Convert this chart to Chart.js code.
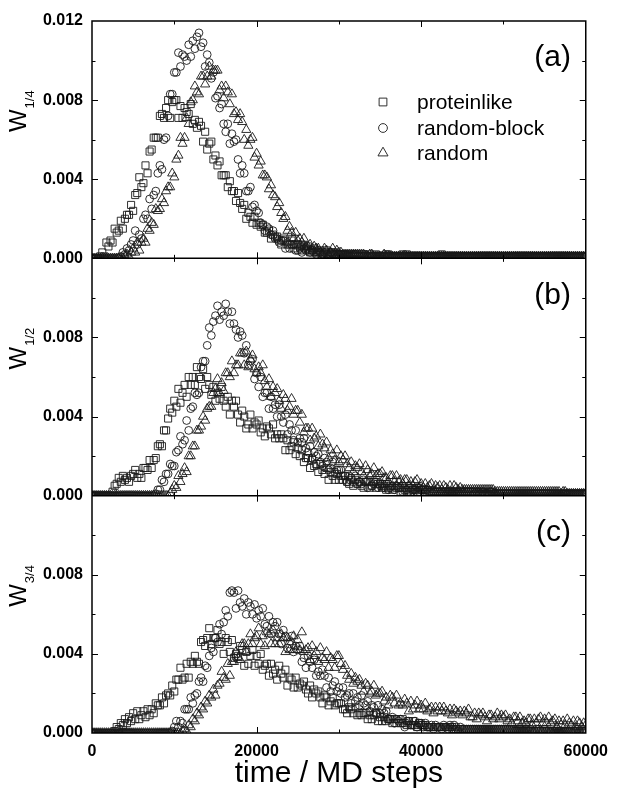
<!DOCTYPE html>
<html>
<head>
<meta charset="utf-8">
<script src="https://cdn.jsdelivr.net/npm/chart.js@4.4.1/dist/chart.umd.min.js"></script>
<style>
  html, body { margin: 0; padding: 0; background: #fff; }
</style>
</head>
<body>
<canvas id="chart" width="617" height="795"></canvas>
<script>
// MD sampling grid (every 250 steps); W values below are in units of 1e-4
const steps = Array.from({length: 241}, (_, i) => i * 250);
const unit = 1e-4;

const seriesNames = ['proteinlike', 'random-block', 'random'];
const panelLabels = ['(a)', '(b)', '(c)'];
const panelSubs = ['1/4', '1/2', '3/4'];
const xTicks = [0, 20000, 40000, 60000];
const yTicks = [0, 0.004, 0.008, 0.012];

// panel (a) W1/4, one row = 5000 steps
const protA = [
  0,0,0,0,1,3,1,8,6,9,8,15,13,14,19,15,20,22,22,27,
  24,32,33,41,36,38,47,43,54,55,61,61,61,72,73,71,76,80,71,79,
  80,80,71,77,71,76,74,73,78,68,70,66,69,67,59,64,55,58,59,50,
  52,47,49,42,42,42,36,39,34,34,29,33,28,25,27,20,23,21,18,21,
  17,18,16,17,13,13,14,10,12,11,11,9,7,10,9,7,7,9,5,7,
  7,6,4,6,5,6,3,4,5,3,3,4,3,2,4,3,2,3,3,2,
  2,2,2,2,1,2,2,1,2,2,1,2,2,1,1,2,1,1,2,1,
  1,1,1,2,2,1,1,1,1,1,1,2,1,2,1,1,1,1,1,1,
  1,1,1,1,1,1,1,1,1,1,2,1,1,1,1,1,1,1,1,1,
  1,1,1,1,1,1,1,1,1,1,1,1,1,1,1,1,1,1,1,1,
  1,1,1,1,1,1,1,1,1,1,1,1,1,1,1,1,1,1,1,1,
  1,1,1,1,1,1,1,1,1,1,1,1,1,1,1,1,1,1,1,1,
  1];
const blockA = [
  0,0,0,0,0,0,0,0,0,0,0,0,0,0,1,3,2,5,4,7,
  9,14,7,12,10,20,22,20,30,25,32,34,43,47,45,60,61,72,83,83,
  94,94,104,97,103,102,100,108,102,110,106,112,114,107,109,97,103,99,91,94,
  81,82,76,78,68,64,68,58,63,59,60,50,43,47,43,34,34,36,26,27,
  24,23,18,17,14,16,15,12,14,10,10,8,9,9,5,8,5,7,7,4,
  4,5,3,5,4,4,3,4,3,2,4,3,2,3,2,1,3,2,2,1,
  2,2,2,2,2,1,1,2,2,1,1,1,1,2,1,1,1,1,1,1,
  1,1,1,1,1,1,1,1,1,1,1,1,1,1,1,1,1,1,1,1,
  1,1,1,1,1,1,1,1,1,1,1,1,1,1,1,1,1,1,1,1,
  1,1,1,1,1,1,1,1,1,1,1,1,1,1,1,1,1,1,1,1,
  1,1,1,1,1,1,1,1,1,1,1,1,1,1,1,1,1,1,1,1,
  1,1,1,1,1,1,1,1,1,1,1,1,1,1,1,1,1,1,1,1,
  1];
const randA = [
  0,0,0,0,0,0,0,0,0,0,0,0,0,0,0,0,1,2,1,3,
  5,3,8,4,8,10,8,15,14,18,17,25,24,25,30,28,34,36,36,43,
  41,50,52,61,58,61,71,68,79,80,87,84,83,92,92,88,92,97,92,95,
  95,95,85,87,81,87,84,78,83,73,74,70,73,69,60,65,57,60,61,51,
  53,47,49,42,42,41,35,37,32,31,26,28,23,20,21,14,16,13,10,13,
  9,10,8,10,6,6,7,4,6,5,5,3,2,5,4,2,3,5,2,4,
  3,3,2,2,2,2,2,2,2,2,2,2,2,1,1,2,2,1,1,1,
  1,1,2,1,1,1,1,1,1,1,1,1,1,1,1,1,1,1,1,1,
  1,1,1,1,1,1,1,1,1,1,1,1,1,1,1,1,1,1,1,1,
  1,1,1,1,1,1,1,1,1,1,1,1,1,1,1,1,1,1,1,1,
  1,1,1,1,1,1,1,1,1,1,1,1,1,1,1,1,1,1,1,1,
  1,1,1,1,1,1,1,1,1,1,1,1,1,1,1,1,1,1,1,1,
  1];

// panel (b) W1/2
const protB = [
  0,0,0,0,0,0,0,0,0,0,2,5,6,9,7,10,8,9,7,10,
  11,13,9,11,9,14,14,13,18,14,18,19,25,26,25,33,33,39,44,42,
  48,45,54,47,52,56,50,60,56,60,56,65,60,59,64,54,60,56,51,55,
  48,52,49,55,48,45,50,41,48,45,48,41,37,43,40,34,36,41,34,37,
  36,38,32,34,30,35,34,31,36,29,31,29,31,29,23,28,23,25,27,21,
  24,20,23,17,19,19,14,18,15,16,12,16,13,11,14,8,12,10,8,11,
  8,10,8,10,7,6,8,5,8,6,7,5,4,7,7,4,5,7,4,6,
  6,4,5,3,4,5,3,5,4,4,2,4,3,2,4,2,3,3,2,4,
  3,3,2,2,2,2,2,2,2,2,2,2,2,2,2,2,2,2,2,2,
  2,2,2,2,2,2,2,2,1,2,2,1,1,2,2,1,1,1,1,1,
  1,1,1,1,1,1,1,1,1,1,1,1,1,1,1,1,1,1,1,1,
  1,1,1,1,1,1,1,1,1,1,1,1,1,1,1,1,1,1,1,1,
  1];
const blockB = [
  0,0,0,0,0,0,0,0,0,0,0,0,0,0,0,0,0,0,0,0,
  0,0,0,0,0,0,0,0,0,0,0,1,3,3,8,7,11,11,16,15,
  15,22,23,30,26,28,38,33,44,45,52,51,52,65,68,68,76,85,81,88,
  91,96,89,93,91,97,93,87,93,87,84,80,83,81,72,76,66,68,69,59,
  62,55,60,50,52,52,44,50,44,46,40,46,40,37,41,31,36,33,28,33,
  27,29,27,29,24,22,25,19,22,20,21,17,15,19,17,13,14,17,12,13,
  13,13,10,10,7,10,9,7,10,6,7,6,8,7,4,7,5,6,7,4,
  5,6,4,6,3,4,5,3,5,4,4,2,4,3,2,4,3,3,4,2,
  3,3,3,3,2,2,2,2,2,2,2,2,2,2,2,2,2,2,2,2,
  2,2,2,2,2,2,1,2,2,1,2,1,1,1,2,1,1,1,1,1,
  1,1,1,1,1,1,1,1,1,1,1,1,1,1,1,1,1,1,1,1,
  1,1,1,1,1,1,1,1,1,1,1,1,1,1,1,1,1,1,1,1,
  1];
const randB = [
  0,0,0,0,0,0,0,0,0,0,0,0,0,0,0,0,0,0,0,0,
  0,0,0,0,0,0,0,0,0,0,0,0,0,0,0,0,0,0,1,3,
  5,4,10,7,11,14,12,20,20,25,25,33,33,35,40,38,44,45,45,52,
  54,59,52,57,53,62,62,60,68,62,66,66,72,72,66,73,65,69,71,64,
  62,65,62,66,58,55,59,50,55,52,54,48,44,51,49,43,45,49,41,43,
  43,37,41,32,34,34,28,34,29,30,25,31,26,24,27,19,23,21,18,23,
  17,20,18,20,16,14,17,12,15,14,16,12,10,15,13,10,11,14,10,11,
  11,12,9,9,7,10,10,7,10,7,8,6,8,8,5,7,5,7,8,4,
  6,4,6,4,5,6,3,5,4,5,3,5,4,3,5,2,5,4,3,4,
  3,3,3,3,3,3,3,3,3,3,3,3,3,3,3,3,2,2,2,2,
  2,2,2,2,2,2,2,2,2,2,2,2,2,2,2,2,2,2,2,2,
  2,2,2,2,2,2,2,2,1,2,2,1,1,1,1,1,1,1,1,1,
  1];

// panel (c) W3/4
const protC = [
  0,0,0,0,0,0,0,0,0,0,0,1,3,2,5,4,7,5,8,6,
  10,7,11,7,9,11,8,12,9,12,10,15,14,14,18,15,19,20,19,24,
  21,27,27,33,27,28,35,28,36,35,39,36,35,46,47,44,48,53,45,48,
  48,52,45,46,40,48,46,41,47,38,40,39,44,42,34,41,35,39,42,34,
  39,35,40,32,34,35,29,35,30,32,27,34,30,28,32,24,28,27,23,28,
  23,25,24,26,22,20,24,18,22,20,21,18,15,19,18,14,16,18,14,15,
  15,15,12,12,10,13,12,10,13,9,10,9,10,10,7,9,7,9,10,6,
  8,6,8,6,7,7,5,7,5,7,5,7,5,4,6,4,6,4,3,5,
  4,4,4,3,3,3,3,3,3,3,3,3,3,3,3,3,2,2,2,2,
  2,2,2,2,2,2,2,2,2,2,2,2,2,2,2,2,2,2,2,2,
  2,2,2,2,2,2,1,1,2,1,1,2,1,1,1,1,1,1,1,1,
  1,1,1,1,1,1,1,1,1,1,1,1,1,1,1,1,1,1,1,1,
  1];
const blockC = [
  0,0,0,0,0,0,0,0,0,0,0,0,0,0,0,0,0,0,0,0,
  0,0,0,0,0,0,0,0,0,0,0,0,0,0,0,0,0,0,0,1,
  3,6,3,6,5,12,12,12,18,15,19,20,26,28,26,34,33,39,43,41,
  48,46,55,50,56,62,59,71,72,71,63,72,66,64,68,60,66,64,60,65,
  58,62,59,63,55,54,59,50,56,54,56,50,45,52,49,43,45,49,41,44,
  42,44,36,38,33,39,36,33,37,29,31,29,32,29,23,28,21,24,26,21,
  23,20,23,18,19,20,15,20,16,18,14,19,15,14,16,11,14,13,10,14,
  10,12,10,11,7,7,8,5,7,6,7,5,3,6,6,4,4,6,3,5,
  5,3,5,3,3,4,2,4,3,3,2,4,3,2,4,2,4,3,1,3,
  2,2,2,2,2,2,2,2,2,2,2,2,2,2,2,2,2,2,2,2,
  2,2,2,2,2,2,2,2,2,2,2,2,2,2,1,1,2,2,1,1,
  2,1,1,1,1,1,2,1,1,1,1,1,1,1,1,1,2,1,1,1,
  1];
const randC = [
  0,0,0,0,0,0,0,0,0,0,0,0,0,0,0,0,0,0,0,0,
  0,0,0,0,0,0,0,0,0,0,0,0,0,0,0,0,0,0,0,0,
  0,0,0,0,1,2,1,4,3,7,6,10,9,13,12,16,15,19,18,22,
  19,24,25,31,28,27,35,29,36,36,41,38,37,45,45,41,45,50,45,48,
  49,53,45,49,44,51,50,45,52,45,48,45,50,48,41,48,42,46,49,42,
  47,42,51,41,42,43,37,44,39,41,36,43,38,37,41,33,38,37,33,39,
  39,35,32,34,29,27,30,25,28,26,27,24,21,25,24,20,21,24,19,20,
  20,21,16,18,14,19,18,15,19,14,15,14,17,15,11,16,12,14,16,12,
  14,12,15,11,12,13,10,13,11,13,11,13,11,10,12,9,12,11,10,11,
  9,11,10,12,8,8,10,7,10,9,10,8,6,9,9,7,8,10,7,9,
  8,9,6,7,5,8,8,6,8,5,6,5,7,7,4,7,5,7,8,5,
  7,5,8,5,6,7,3,6,4,6,4,7,5,4,6,3,6,5,3,5,
  4];

const panelData = [
  [protA, blockA, randA],
  [protB, blockB, randB],
  [protC, blockC, randC]
];
const axisIds = ['ya', 'yb', 'yc'];

panelData.flat().forEach((s, i) => {
  if (s.length !== steps.length) throw new Error('series ' + i + ' has ' + s.length + ' values');
});

const markers = [
  {pointStyle: 'rect', pointRadius: 5, legendRadius: 5.5},
  {pointStyle: 'circle', pointRadius: 3.9, legendRadius: 4.4},
  {pointStyle: 'triangle', pointRadius: 5.3, legendRadius: 5.8}
];
const ink = '#1a1a1a';
const font = "'Liberation Sans', Arial, sans-serif";

function points(vals) {
  return vals.map((v, i) => ({x: steps[i], y: v * unit}));
}

const datasets = [];
panelData.forEach((series, p) => {
  series.forEach((vals, k) => {
    datasets.push({
      label: seriesNames[k],
      data: points(vals),
      yAxisID: axisIds[p],
      pointStyle: markers[k].pointStyle,
      pointRadius: markers[k].pointRadius,
      pointHoverRadius: markers[k].pointRadius,
      borderColor: ink,
      backgroundColor: 'rgba(0,0,0,0)',
      borderWidth: 0.9,
      showLine: false
    });
  });
});

function yAxis(id, weight) {
  return {
    type: 'linear',
    position: 'left',
    stack: 'w',
    stackWeight: 1,
    weight: weight,
    min: 0,
    max: 0.012,
    grid: {display: false, drawTicks: false},
    border: {display: false},
    afterFit: (scale) => { scale.width = 92; },
    afterBuildTicks: (scale) => { scale.ticks = yTicks.map(v => ({value: v})); },
    ticks: {
      autoSkip: false,
      padding: 9,
      color: '#000',
      font: {family: font, size: 16, weight: 'bold'},
      callback: (v) => (id !== 'ya' && v > 0.011) ? '' : v.toFixed(3)
    }
  };
}

const decorPlugin = {
  id: 'decor',
  afterDatasetsDraw(chart) {
    const {ctx, scales} = chart;
    const x = scales.x;
    const panels = axisIds.map(id => scales[id]);
    ctx.save();
    ctx.strokeStyle = '#000';
    ctx.fillStyle = '#000';

    // ticks, pointing inward
    ctx.lineWidth = 1;
    ctx.beginPath();
    panels.forEach(s => {
      for (let k = 1; k < 6; k++) {
        const py = Math.round(s.getPixelForValue(k * 0.002)) + 0.5;
        const len = k % 2 === 0 ? 6 : 3.5;
        ctx.moveTo(x.left, py); ctx.lineTo(x.left + len, py);
        ctx.moveTo(x.right, py); ctx.lineTo(x.right - len, py);
      }
      for (let t = 10000; t < 60000; t += 10000) {
        const px = Math.round(x.getPixelForValue(t)) + 0.5;
        const len = t % 20000 === 0 ? 6 : 3.5;
        ctx.moveTo(px, s.top); ctx.lineTo(px, s.top + len);
        ctx.moveTo(px, s.bottom); ctx.lineTo(px, s.bottom - len);
      }
    });
    ctx.stroke();

    // frame and panel separators
    ctx.lineWidth = 1.5;
    ctx.strokeRect(x.left, panels[0].top, x.right - x.left, panels[2].bottom - panels[0].top);
    ctx.beginPath();
    ctx.moveTo(x.left, panels[0].bottom); ctx.lineTo(x.right, panels[0].bottom);
    ctx.moveTo(x.left, panels[1].bottom); ctx.lineTo(x.right, panels[1].bottom);
    ctx.stroke();

    // panel letters
    ctx.font = '30px ' + font;
    ctx.textAlign = 'right';
    ctx.textBaseline = 'middle';
    panels.forEach((s, i) => ctx.fillText(panelLabels[i], 571, s.top + 37));

    // y titles: W with subscript, rotated
    panels.forEach((s, i) => {
      const y0 = s.getPixelForValue(0.008) + 32;
      ctx.save();
      ctx.translate(26, y0);
      ctx.rotate(-Math.PI / 2);
      ctx.textAlign = 'left';
      ctx.textBaseline = 'alphabetic';
      ctx.font = '24px ' + font;
      ctx.fillText('W', 0, 0);
      const w = ctx.measureText('W').width;
      ctx.font = '13px ' + font;
      ctx.fillText(panelSubs[i], w + 1, 8);
      ctx.restore();
    });

    // legend inside panel (a)
    const rows = [102, 128, 153];
    ctx.font = '21px ' + font;
    ctx.textAlign = 'left';
    ctx.textBaseline = 'middle';
    seriesNames.forEach((name, k) => {
      ctx.strokeStyle = ink;
      ctx.fillStyle = 'rgba(0,0,0,0)';
      ctx.lineWidth = 0.9;
      Chart.helpers.drawPoint(ctx, {
        pointStyle: markers[k].pointStyle,
        radius: markers[k].legendRadius,
        borderWidth: 0.9,
        rotation: 0
      }, 383, rows[k]);
      ctx.fillStyle = '#000';
      ctx.fillText(name, 417, rows[k] + 1);
    });
    ctx.restore();
  }
};

new Chart(document.getElementById('chart'), {
  type: 'scatter',
  data: {datasets: datasets},
  options: {
    responsive: false,
    devicePixelRatio: 1,
    animation: false,
    layout: {padding: {top: 21, right: 27, bottom: 0, left: 0}},
    plugins: {legend: {display: false}, tooltip: {enabled: false}},
    scales: {
      x: {
        type: 'linear',
        position: 'bottom',
        min: 0,
        max: 60000,
        grid: {display: false, drawTicks: false},
        border: {display: false},
        afterFit: (scale) => { scale.height = 62; },
        afterBuildTicks: (scale) => { scale.ticks = xTicks.map(v => ({value: v})); },
        ticks: {
          autoSkip: false,
          maxRotation: 0,
          padding: 9,
          color: '#000',
          font: {family: font, size: 16, weight: 'bold'},
          callback: (v) => String(v)
        },
        title: {
          display: true,
          text: 'time / MD steps',
          color: '#000',
          font: {family: font, size: 30},
          padding: {top: 0, bottom: 3}
        }
      },
      ya: yAxis('ya', 3),
      yb: yAxis('yb', 2),
      yc: yAxis('yc', 1)
    }
  },
  plugins: [decorPlugin]
});
</script>
</body>
</html>
